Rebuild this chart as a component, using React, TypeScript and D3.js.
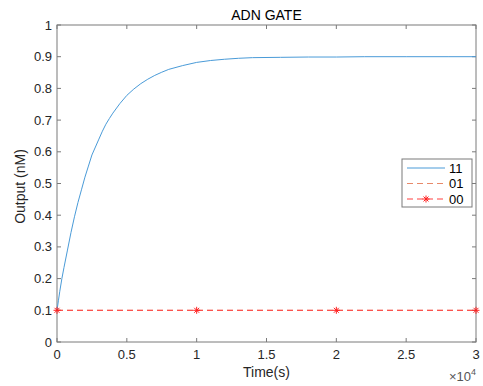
import React, { useRef, useEffect } from "react";
import * as d3 from "d3";

// time (s) and output (nM)
const timeS = [0, 100, 200, 350, 500, 750, 1000, 1250, 1500, 1750, 2000, 2250, 2500, 2750, 3000, 3250, 3500, 3750, 4000, 4500, 5000, 5500, 6000, 6500, 7000, 7500, 8000, 9000, 10000, 11000, 12000, 13000, 14000, 16000, 18000, 20000, 22000, 25000, 28000, 30000];
const out11 = [0.10, 0.13, 0.16, 0.20, 0.235, 0.29, 0.345, 0.395, 0.44, 0.48, 0.52, 0.555, 0.59, 0.615, 0.64, 0.665, 0.687, 0.705, 0.722, 0.752, 0.778, 0.798, 0.815, 0.829, 0.841, 0.851, 0.86, 0.872, 0.882, 0.888, 0.892, 0.895, 0.897, 0.898, 0.899, 0.899, 0.9, 0.9, 0.9, 0.9];
const lowTime = [0, 10000, 20000, 30000];
const out01 = [0.1, 0.1, 0.1, 0.1];
const out00 = [0.1, 0.1, 0.1, 0.1];
const xTicks = [0, 5000, 10000, 15000, 20000, 25000, 30000];
const yTicks = [0, 0.1, 0.2, 0.3, 0.4, 0.5, 0.6, 0.7, 0.8, 0.9, 1];
const legendNames = ["11", "01", "00"];

const W = 483, H = 386;
const FONT = "'Liberation Sans', Arial, sans-serif";

export default function App() {
  const ref = useRef<SVGSVGElement>(null);

  useEffect(() => {
    if (!ref.current) return;
    const svg = d3.select(ref.current);
    svg.selectAll("*").remove();

    const m = { left: 57, right: 476, top: 25, bottom: 342 };
    const x = d3.scaleLinear().domain([0, 30000]).range([m.left, m.right]);
    const y = d3.scaleLinear().domain([0, 1]).range([m.bottom, m.top]);
    const axisCol = "#262626";
    const boxCol = "#7a7a7a";

    svg.append("rect").attr("width", W).attr("height", H).attr("fill", "#fff");

    // box
    svg.append("rect")
      .attr("x", m.left).attr("y", m.top)
      .attr("width", m.right - m.left).attr("height", m.bottom - m.top)
      .attr("fill", "none").attr("stroke", boxCol).attr("stroke-width", 1);

    const tickLen = 4;
    xTicks.forEach(t => {
      svg.append("line").attr("x1", x(t)).attr("x2", x(t)).attr("y1", m.bottom).attr("y2", m.bottom - tickLen).attr("stroke", boxCol);
      svg.append("line").attr("x1", x(t)).attr("x2", x(t)).attr("y1", m.top).attr("y2", m.top + tickLen).attr("stroke", boxCol);
      svg.append("text").attr("x", x(t)).attr("y", m.bottom + 17)
        .attr("text-anchor", "middle").attr("font-family", FONT).attr("font-size", 13).attr("fill", axisCol)
        .text(d3.format("~g")(t / 10000));
    });
    yTicks.forEach(t => {
      svg.append("line").attr("x1", m.left).attr("x2", m.left + tickLen).attr("y1", y(t)).attr("y2", y(t)).attr("stroke", boxCol);
      svg.append("line").attr("x1", m.right).attr("x2", m.right - tickLen).attr("y1", y(t)).attr("y2", y(t)).attr("stroke", boxCol);
      svg.append("text").attr("x", m.left - 5).attr("y", y(t) + 4.5)
        .attr("text-anchor", "end").attr("font-family", FONT).attr("font-size", 13).attr("fill", axisCol)
        .text(d3.format("~g")(t));
    });

    // exponent
    const ex = svg.append("text").attr("x", m.right).attr("y", 381).attr("text-anchor", "end")
      .attr("font-family", FONT).attr("font-size", 13).attr("fill", "#555");
    ex.append("tspan").text("×10");
    ex.append("tspan").attr("dy", -6).attr("font-size", 9).text("4");

    // labels
    svg.append("text").attr("x", (m.left + m.right) / 2).attr("y", 20).attr("text-anchor", "middle")
      .attr("font-family", FONT).attr("font-size", 14).attr("fill", "#000").text("ADN GATE");
    svg.append("text").attr("x", (m.left + m.right) / 2).attr("y", 377).attr("text-anchor", "middle")
      .attr("font-family", FONT).attr("font-size", 14).attr("fill", axisCol).text("Time(s)");
    svg.append("text").attr("transform", `translate(25,${(m.top + m.bottom) / 2 + 3}) rotate(-90)`).attr("text-anchor", "middle")
      .attr("font-family", FONT).attr("font-size", 14).attr("fill", axisCol).text("Output (nM)");

    const line = d3.line<[number, number]>().x(d => x(d[0])).y(d => y(d[1]));

    svg.append("path").datum(timeS.map((t, i) => [t, out11[i]] as [number, number]))
      .attr("d", line).attr("fill", "none").attr("stroke", "#4a9bd8").attr("stroke-width", 1);
    svg.append("path").datum(lowTime.map((t, i) => [t, out01[i]] as [number, number]))
      .attr("d", line).attr("fill", "none").attr("stroke", "#e8896a").attr("stroke-width", 1).attr("stroke-dasharray", "6,4");
    svg.append("path").datum(lowTime.map((t, i) => [t, out00[i]] as [number, number]))
      .attr("d", line).attr("fill", "none").attr("stroke", "#ff4040").attr("stroke-width", 1).attr("stroke-dasharray", "6,4");

    const star = (g: d3.Selection<SVGGElement, unknown, null, undefined>, cx: number, cy: number) => {
      const r = 3.5;
      [0, 45, 90, 135].forEach(a => {
        const dx = r * Math.cos(a * Math.PI / 180), dy = r * Math.sin(a * Math.PI / 180);
        g.append("line").attr("x1", cx - dx).attr("x2", cx + dx).attr("y1", cy - dy).attr("y2", cy + dy)
          .attr("stroke", "#ff2020").attr("stroke-width", 1);
      });
    };
    const markers = svg.append("g");
    lowTime.forEach((t, i) => star(markers, x(t), y(out00[i])));

    // legend
    const lg = svg.append("g");
    lg.append("rect").attr("x", 402).attr("y", 159).attr("width", 70).attr("height", 48)
      .attr("fill", "#fff").attr("stroke", boxCol).attr("stroke-width", 1);
    const styles = [
      { c: "#4a9bd8", dash: null },
      { c: "#e8896a", dash: "6,4" },
      { c: "#ff4040", dash: "6,4" },
    ];
    legendNames.forEach((n, i) => {
      const ly = 168 + i * 15.5;
      lg.append("line").attr("x1", 407).attr("x2", 445).attr("y1", ly).attr("y2", ly)
        .attr("stroke", styles[i].c).attr("stroke-width", 1).attr("stroke-dasharray", styles[i].dash);
      if (i === 2) star(lg, 426, ly);
      lg.append("text").attr("x", 449).attr("y", ly + 4.5).attr("font-family", FONT).attr("font-size", 13)
        .attr("fill", "#000").text(n);
    });
  }, []);

  return <svg ref={ref} width={W} height={H} style={{ position: "absolute", left: 0, top: 0 }} />;
}
